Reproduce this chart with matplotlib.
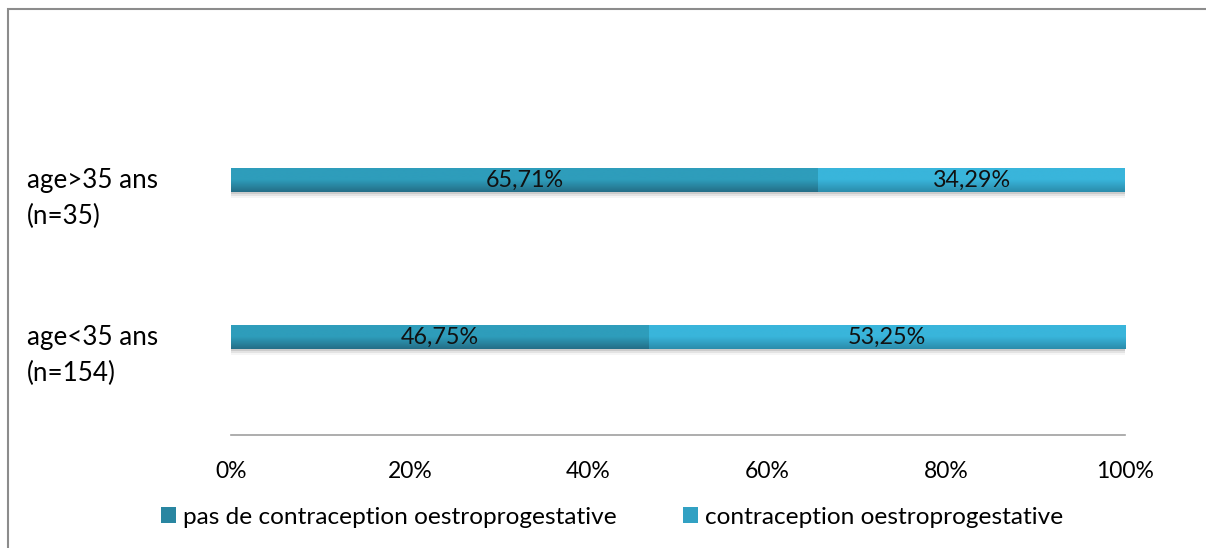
import numpy as np
import matplotlib.pyplot as plt
import matplotlib.transforms as mtransforms
from matplotlib.colors import LinearSegmentedColormap
from matplotlib.patches import Rectangle

# data
categories = ['age<35 ans\n(n=154)', 'age>35 ans\n(n=35)']
sans_contraception = [46.75, 65.71]
avec_contraception = [53.25, 34.29]
series_names = ['pas de contraception oestroprogestative', 'contraception oestroprogestative']
xticks = [0, 20, 40, 60, 80, 100]

dark = ('#2e9dbb', '#246e87')
light = ('#39b5db', '#2b8cab')

plt.rcParams['font.family'] = ['Lato', 'DejaVu Sans']


def mid(cols):
    return np.mean([[int(c[i:i + 2], 16) for i in (1, 3, 5)] for c in cols], axis=0) / 255


W, H = 1206, 548
fig = plt.figure(figsize=(W / 100, H / 100), dpi=100)
ylo, yhi = -0.624, 1.9
ax = fig.add_axes([231 / W, (H - 435) / H, (1125 - 231) / W, (yhi - ylo) * 157 / H])

y = np.arange(len(categories))
h = 0.153

# soft shadow under the bars
px = 1 / 157
for k, a in [(2, 0.10), (4, 0.07), (6, 0.04)]:
    ax.barh(y - k * px / 2, 100, height=h + k * px, left=0, color='#000000', alpha=a, lw=0, zorder=1)

b1 = ax.barh(y, sans_contraception, height=h, color=mid(dark),
             label=series_names[0], zorder=3, lw=0)
b2 = ax.barh(y, avec_contraception, height=h, left=sans_contraception, color=mid(light),
             label=series_names[1], zorder=3, lw=0)

# vertical gradient fill on each bar
grad = np.linspace(0, 1, 64).reshape(-1, 1)
for bars, cols in [(b1, dark), (b2, light)]:
    cmap = LinearSegmentedColormap.from_list('g', [cols[0], cols[0], cols[1]])
    for p in bars:
        x0, y0 = p.get_x(), p.get_y()
        im = ax.imshow(grad, cmap=cmap, aspect='auto', origin='upper',
                       extent=[x0, x0 + p.get_width(), y0, y0 + p.get_height()], zorder=3.5)
        im.set_clip_path(p)

for i in range(len(categories)):
    a = sans_contraception[i]
    b = avec_contraception[i]
    ax.text(a / 2, y[i], f'{a:.2f}%'.replace('.', ','), ha='center', va='center',
            fontsize=16.8, color='#111111', zorder=4)
    ax.text(a + b / 2, y[i], f'{b:.2f}%'.replace('.', ','), ha='center', va='center',
            fontsize=16.8, color='#111111', zorder=4)

ax.set_xlim(0, 100)
ax.set_ylim(ylo, yhi)
ax.set_xticks(xticks)
ax.set_xticklabels([f'{t}%' for t in xticks], fontsize=16.5)
ax.tick_params(axis='x', length=0, pad=19)
ax.set_yticks([])
for s in ['top', 'right', 'left']:
    ax.spines[s].set_visible(False)
ax.spines['bottom'].set_color('#a0a0a0')
ax.spines['bottom'].set_linewidth(1.2)

trans = mtransforms.blended_transform_factory(fig.transFigure, ax.transData)
for i, c in enumerate(categories):
    first, second = c.split('\n')
    ax.text(27 / W, y[i], first, transform=trans, ha='left', va='center', fontsize=18.7)
    ax.text(27 / W, y[i] - 0.23, second, transform=trans, ha='left', va='center', fontsize=18.7)

fig.legend(loc='center left', bbox_to_anchor=(161 / W, (H - 517) / H), ncol=2, frameon=False,
           fontsize=17.6, handlelength=0.6, handleheight=0.6, handletextpad=0.28,
           columnspacing=2.75, borderpad=0, borderaxespad=0)

# outer frame
fig.patches.append(Rectangle((8 / W, -0.1), 1.2, (H - 9) / H + 0.1, transform=fig.transFigure,
                             fill=False, edgecolor='#8c8c8c', lw=1.5))

fig.savefig('out.png', dpi=100)
